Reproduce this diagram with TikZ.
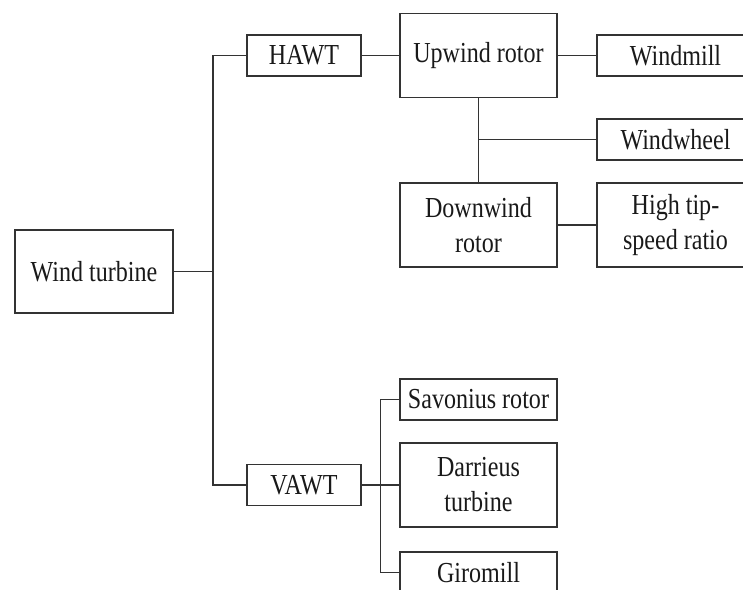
\documentclass[tikz,border=0pt]{standalone}
\usepackage{fontspec}
\setmainfont[FakeStretch=0.83]{Liberation Serif}
\usepackage{tikz}

\begin{document}
\begin{tikzpicture}[x=1pt, y=-1pt, line width=1.4pt,
    main/.style = {draw=black!80, rectangle, inner sep=0pt, align=center,
                   font=\fontsize{29}{35}\selectfont, text=black!90},
    low/.style = {main, minimum width=157pt, minimum height=41pt},
    high/.style = {main, minimum width=157pt, minimum height=84pt},
    short/.style = {main, minimum width=114pt, minimum height=41pt}]
			\useasboundingbox (0,0) rectangle (743,589);
			\clip (0,0) rectangle (743,589);
			\node[main, minimum width=158pt, minimum height=83pt] (1) at (94,271.5) {Wind turbine};
			\node[short] (2) at (304,55.5) {HAWT};
			\node[short] (3) at (304,485) {VAWT};
			\node[high] (4) at (478.5,55.5) {Upwind rotor};
			\node[high] (5) at (478.5,225) {Downwind\\rotor};
			\node[low] (6) at (675.5,55.5) {Windmill};
			\node[low] (7) at (675.5,139.5) {Windwheel};
			\node[high] (8) at (675.5,225) {High tip-\\speed ratio};
			\node[low] (9) at (478.5,399.5) {Savonius rotor};
			\node[high] (10) at (478.5,485) {Darrieus\\turbine};
			\node[low] (11) at (478.5,572.5) {Giromill};
			\coordinate (t) at (213,271.5);
			\coordinate (v) at (380.5,485);
			\draw[black!80] (1.east) -- (t);
			\draw[black!80] (2.west) -| (t) |- (3.west);
			\draw[black!80] (2.east) -- (4.west);
			\draw[black!80] (4.east) -- (6.west);
			\draw[black!80] (4.south) -- (5.north);
			\draw[black!80] (7.west) -- (4.south |- 7.west);
			\draw[black!80] (5.east) -- (8.west);
			\draw[black!80] (3.east) -- (10.west);
			\draw[black!80] (9.west) -| (v) |- (11.west);
		\end{tikzpicture}
\end{document}
